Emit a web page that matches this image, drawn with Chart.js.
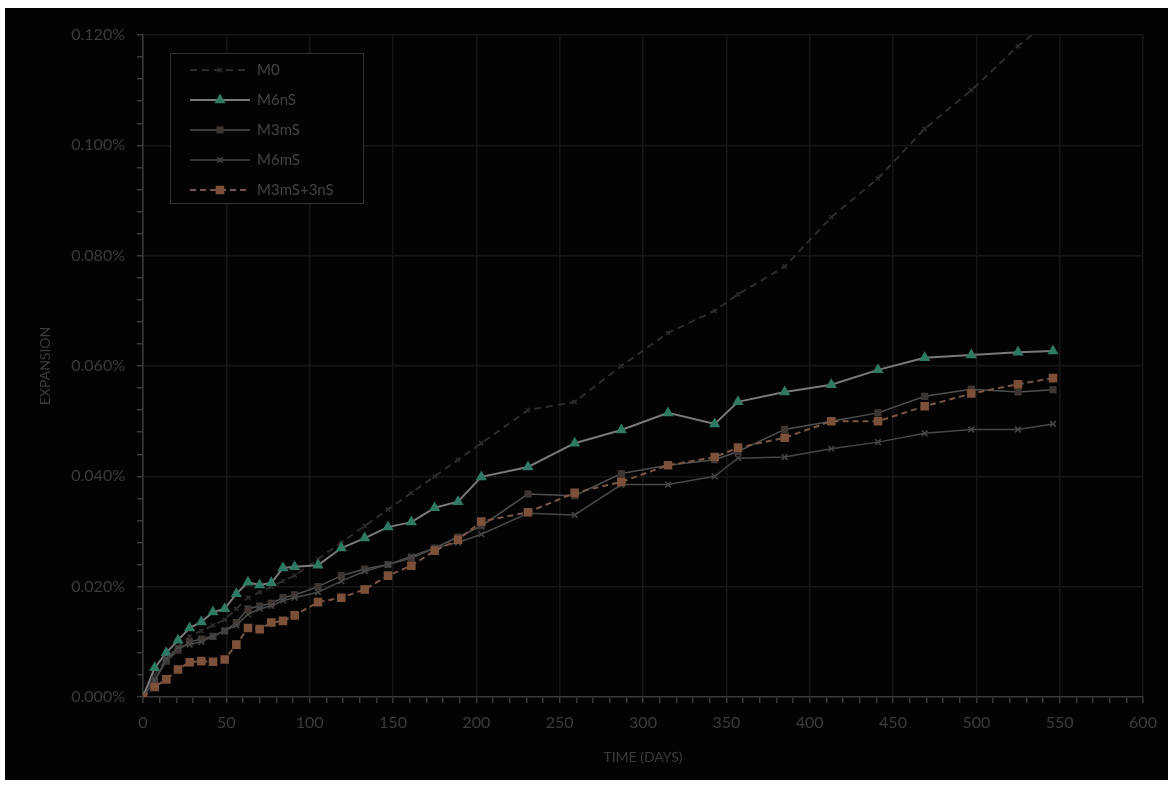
<!DOCTYPE html>
<html>
<head>
<meta charset="utf-8">
<script src="https://cdn.jsdelivr.net/npm/chart.js@4.4.0/dist/chart.umd.min.js"></script>
<style>
  html, body { margin: 0; padding: 0; background: #fff; }
  #wrap { position: relative; width: 1176px; height: 786px; }
</style>
</head>
<body>
<div id="wrap"><canvas id="myChart" width="1176" height="786"></canvas></div>
<script>
// test days
const days = [0, 7, 14, 21, 28, 35, 42, 49, 56, 63, 70, 77, 84, 91,
  105, 119, 133, 147, 161, 175, 189, 203,
  231, 259, 287, 315, 343,
  357, 385, 413, 441, 469, 497, 525, 546];

// expansion, %
const m0 = [0, 0.0040, 0.0070, 0.0090, 0.0110, 0.0120, 0.0130, 0.0140, 0.0160, 0.0180, 0.0190, 0.0200, 0.0210, 0.0220,
  0.0250, 0.0280, 0.0310, 0.0340, 0.0370, 0.0400, 0.0430, 0.0460,
  0.0520, 0.0535, 0.0600, 0.0660, 0.0700,
  0.0730, 0.0780, 0.0870, 0.0940, 0.1030, 0.1100, 0.1180, 0.1230];
const m6nS = [0, 0.0053, 0.0080, 0.0103, 0.0125, 0.0136, 0.0154, 0.0160, 0.0187, 0.0208, 0.0203, 0.0207, 0.0234, 0.0236,
  0.0239, 0.0270, 0.0288, 0.0308, 0.0317, 0.0343, 0.0354, 0.0399,
  0.0417, 0.0460, 0.0484, 0.0515, 0.0495,
  0.0535, 0.0553, 0.0566, 0.0593, 0.0615, 0.0620, 0.0625, 0.0627];
const m3mS = [0, 0.0030, 0.0065, 0.0085, 0.0100, 0.0105, 0.0110, 0.0120, 0.0135, 0.0160, 0.0165, 0.0170, 0.0180, 0.0185,
  0.0200, 0.0220, 0.0232, 0.0240, 0.0252, 0.0270, 0.0290, 0.0310,
  0.0368, 0.0365, 0.0405, 0.0420, 0.0430,
  0.0445, 0.0485, 0.0500, 0.0515, 0.0545, 0.0558, 0.0553, 0.0557];
const m6mS = [0, 0.0030, 0.0070, 0.0090, 0.0095, 0.0100, 0.0110, 0.0120, 0.0130, 0.0150, 0.0160, 0.0165, 0.0175, 0.0180,
  0.0190, 0.0210, 0.0228, 0.0240, 0.0255, 0.0270, 0.0280, 0.0295,
  0.0333, 0.0330, 0.0385, 0.0385, 0.0400,
  0.0433, 0.0435, 0.0450, 0.0462, 0.0478, 0.0485, 0.0485, 0.0495];
const m3mS3nS = [0, 0.0018, 0.0032, 0.0050, 0.0063, 0.0065, 0.0064, 0.0068, 0.0095, 0.0125, 0.0123, 0.0135, 0.0138, 0.0148,
  0.0172, 0.0180, 0.0195, 0.0220, 0.0238, 0.0265, 0.0285, 0.0318,
  0.0335, 0.0370, 0.0390, 0.0420, 0.0435,
  0.0452, 0.0470, 0.0500, 0.0500, 0.0527, 0.0550, 0.0567, 0.0578];

const seriesNames = ["M0", "M6nS", "M3mS", "M6mS", "M3mS+3nS"];

// axis ticks
const xMin = 0, xMax = 600, xMajor = 50, xMinor = 10;
const yMin = 0, yMax = 0.12, yMajor = 0.02, yMinor = 0.004;

const txt = "#3b3b3b";
const grid = "#161616";
const axisCol = "#3a3a3a";
const family = "Lato, 'Open Sans', sans-serif";
const font = { family: family, size: 16 };

const pts = (vals) => days.map((d, i) => ({ x: d, y: vals[i] }));
const isMajor = (v, step) => Math.abs(v / step - Math.round(v / step)) < 1e-6;

const styles = [
  { color: "#2c2c2c", point: "crossRot", fill: "#2c2c2c", r: 3, dash: [7, 5], w: 2 },
  { color: "#7a7a7a", point: "triangle", fill: "#2f7a64", r: 5, dash: [], w: 2 },
  { color: "#505050", point: "rect", fill: "#3d3632", r: 4, dash: [], w: 1.5 },
  { color: "#474747", point: "crossRot", fill: "#474747", r: 4, dash: [], w: 1.5 },
  { color: "#7a5646", point: "rect", fill: "#7d5139", r: 5, dash: [6, 4], w: 2 }
];
const seriesData = [m0, m6nS, m3mS, m6mS, m3mS3nS];

const bgPlugin = {
  id: "bg",
  beforeDraw(chart) {
    const { ctx } = chart;
    ctx.save();
    ctx.fillStyle = "#ffffff";
    ctx.fillRect(0, 0, chart.width, chart.height);
    ctx.fillStyle = "#030303";
    ctx.fillRect(5, 8, 1163, 772);
    ctx.restore();
  }
};

const legendPlugin = {
  id: "boxLegend",
  afterDraw(chart) {
    const { ctx } = chart;
    ctx.save();
    ctx.fillStyle = "#030303";
    ctx.fillRect(170, 53, 193, 150);
    ctx.strokeStyle = "#333333";
    ctx.lineWidth = 1;
    ctx.strokeRect(170.5, 53.5, 193, 150);
    seriesNames.forEach((name, i) => {
      const s = styles[i];
      const y = 70 + i * 30;
      ctx.strokeStyle = s.color;
      ctx.lineWidth = s.w;
      ctx.setLineDash(s.dash);
      ctx.beginPath();
      ctx.moveTo(190, y);
      ctx.lineTo(250, y);
      ctx.stroke();
      ctx.setLineDash([]);
      ctx.fillStyle = s.fill;
      ctx.strokeStyle = s.point === "crossRot" ? s.color : s.fill;
      ctx.lineWidth = 1.5;
      Chart.helpers.drawPoint(ctx, { pointStyle: s.point, radius: s.r, rotation: 0, borderWidth: 1.5 }, 220, y);
      ctx.fillStyle = "#444444";
      ctx.font = "15px " + family;
      ctx.textBaseline = "middle";
      ctx.fillText(name, 257, y);
    });
    ctx.restore();
  }
};

new Chart(document.getElementById("myChart"), {
  type: "line",
  data: {
    datasets: seriesNames.map((name, i) => ({
      label: name,
      data: pts(seriesData[i]),
      borderColor: styles[i].color,
      borderWidth: styles[i].w,
      borderDash: styles[i].dash,
      pointStyle: styles[i].point,
      pointRadius: styles[i].r,
      pointBackgroundColor: styles[i].fill,
      pointBorderColor: styles[i].point === "crossRot" ? styles[i].color : styles[i].fill,
      pointBorderWidth: 1.5,
      tension: 0,
      fill: false,
      order: 4 - i
    }))
  },
  options: {
    responsive: false,
    animation: false,
    events: [],
    layout: { padding: { top: 35, right: 33, left: 0, bottom: 0 } },
    plugins: {
      legend: { display: false },
      tooltip: { enabled: false }
    },
    scales: {
      x: {
        type: "linear",
        min: xMin,
        max: xMax,
        afterFit: (s) => { s.height = 89; },
        afterBuildTicks: (s) => {
          const t = [];
          for (let v = xMin; v <= xMax + 1e-9; v += xMinor) t.push({ value: v });
          s.ticks = t;
        },
        ticks: {
          autoSkip: false,
          maxRotation: 0,
          color: txt,
          font: font,
          padding: 10,
          callback: (v) => (isMajor(v, xMajor) ? String(v) : "")
        },
        grid: {
          color: (c) => (c.tick && isMajor(c.tick.value, xMajor) ? grid : "transparent"),
          lineWidth: 1.5,
          tickColor: axisCol,
          tickLength: 6
        },
        border: { color: axisCol, width: 1.5 },
        title: {
          display: true,
          text: "TIME (DAYS)",
          color: txt,
          font: { family: family, size: 14 },
          padding: { top: 0, bottom: 20 }
        }
      },
      y: {
        min: yMin,
        max: yMax,
        afterFit: (s) => { s.width = 143; },
        afterBuildTicks: (s) => {
          const t = [];
          for (let k = 0; k <= Math.round((yMax - yMin) / yMinor); k++) t.push({ value: yMin + k * yMinor });
          s.ticks = t;
        },
        ticks: {
          autoSkip: false,
          color: txt,
          font: font,
          padding: 12,
          callback: (v) => (isMajor(v, yMajor) ? v.toFixed(3) + "%" : "")
        },
        grid: {
          color: (c) => (c.tick && isMajor(c.tick.value, yMajor) && c.tick.value > 0 ? grid : "transparent"),
          lineWidth: 1.5,
          tickColor: axisCol,
          tickLength: 6
        },
        border: { color: axisCol, width: 1.5 },
        title: {
          display: true,
          text: "EXPANSION",
          color: txt,
          font: { family: family, size: 14 },
          padding: { top: 37, bottom: 0 }
        }
      }
    }
  },
  plugins: [bgPlugin, legendPlugin]
});
</script>
</body>
</html>
